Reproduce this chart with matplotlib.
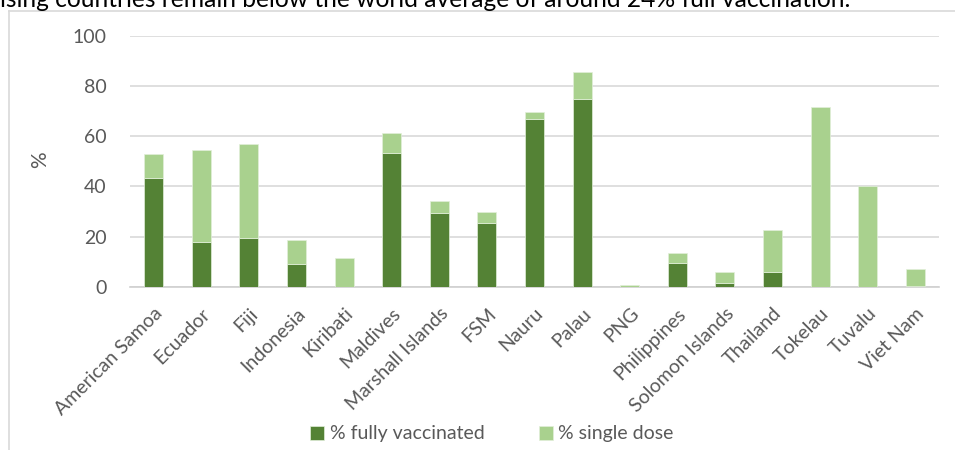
import numpy as np
import matplotlib.pyplot as plt
from matplotlib.lines import Line2D

countries = ["American Samoa", "Ecuador", "Fiji", "Indonesia", "Kiribati", "Maldives",
             "Marshall Islands", "FSM", "Nauru", "Palau", "PNG", "Philippines",
             "Solomon Islands", "Thailand", "Tokelau", "Tuvalu", "Viet Nam"]
fully = [43.5, 18.0, 19.5, 8.9, 0.0, 53.1, 29.5, 25.5, 66.9, 74.6, 0.0, 9.3, 1.5, 5.9, 0.0, 0.0, 0.4]
total = [52.8, 54.5, 57.0, 18.6, 11.3, 61.4, 34.2, 29.7, 69.6, 85.5, 0.8, 13.4, 6.0, 22.7, 71.7, 40.3, 7.1]
single = [t - f for t, f in zip(total, fully)]
yticks = [0, 20, 40, 60, 80, 100]

plt.rcParams['font.family'] = ['Lato', 'DejaVu Sans']
grey = '#595959'

fig = plt.figure(figsize=(9.55, 4.5), dpi=100)
W, H = 955, 450
ax = fig.add_axes([130 / W, 1 - 286.7 / H, (939 - 130) / W, (286.7 - 35.7) / H])

x = np.arange(len(countries))
ax.bar(x, fully, width=0.4, color='#548235', edgecolor='#e2efda', linewidth=0.5,
       label='% fully vaccinated', zorder=3)
ax.bar(x, single, width=0.4, bottom=fully, color='#a9d18e', edgecolor='#e2efda',
       linewidth=0.5, label='% single dose', zorder=3)

ax.set_xlim(-0.5, len(countries) - 0.5)
ax.set_ylim(0, 100)
ax.set_yticks(yticks)
ax.yaxis.grid(True, color='#d9d9d9', linewidth=1.2, zorder=0)
for s in ['top', 'right', 'left']:
    ax.spines[s].set_visible(False)
ax.spines['bottom'].set_color('#d0d0d0')
ax.spines['bottom'].set_linewidth(1.2)
ax.tick_params(axis='both', length=0, labelsize=14, labelcolor=grey)
ax.tick_params(axis='y', pad=17)
ax.set_xticks(x)
ax.set_xticklabels(countries, rotation=45, ha='right', rotation_mode='anchor')
ax.tick_params(axis='x', pad=13)

fig.text(40 / W, 1 - 160 / H, '%', rotation=90, fontsize=15, color=grey,
         ha='center', va='center')

ax.legend(loc='center', bbox_to_anchor=(492 / W, 1 - 434 / H),
          bbox_transform=fig.transFigure, ncol=2, frameon=False, fontsize=14,
          labelcolor=grey, handlelength=0.7, handleheight=0.7, handletextpad=0.3,
          columnspacing=2.8)

# chart border (partly cut off)
fig.add_artist(Line2D([8.5 / W, 8.5 / W], [0, 1 - 11 / H], color='#d9d9d9', lw=1.2))
fig.add_artist(Line2D([8.5 / W, 1], [1 - 11 / H, 1 - 11 / H], color='#d9d9d9', lw=1.2))

fig.text(0, 1 - 7 / H, 'ising countries remain below the world average of around 24% full vaccination.',
         fontsize=17.7, color='black', ha='left', va='baseline')

fig.savefig('out.png', dpi=100)
